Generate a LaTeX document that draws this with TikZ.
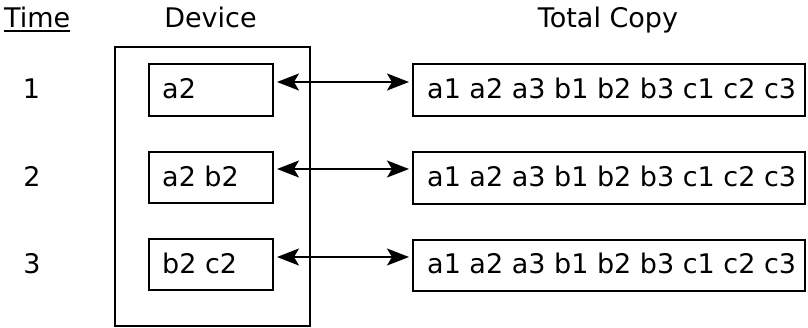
\documentclass[tikz,border=0pt]{standalone}
\usepackage{fontspec}
\setmainfont{DejaVu Sans}
\usetikzlibrary{arrows.meta}
\begin{document}
\begin{tikzpicture}[x=1pt,y=-1pt,
  every node/.style={font=\fontsize{27}{30}\selectfont},
  label/.style={inner sep=0pt, anchor=base},
  entry/.style={inner sep=0pt, anchor=base west},
  box/.style={draw, line width=2pt, inner sep=0pt, minimum height=51.5pt},
  devbox/.style={box, minimum width=124pt},
  copybox/.style={box, minimum width=392pt},
  link/.style={line width=1.6pt, {Stealth[length=22pt,width=17pt,inset=5pt]}-{Stealth[length=22pt,width=17pt,inset=5pt]}, shorten <=3pt, shorten >=3pt}]
  \useasboundingbox (0,0) rectangle (808,327);

  % column headings
  \node[label, anchor=base west] (time) at (4,27) {Time};
  \draw[line width=1.8pt] ([yshift=-4pt]time.base west) -- ([yshift=-4pt]time.base east);
  \node[label] (device) at (210.5,27) {Device};
  \node[label] (total) at (608,27) {Total Copy};

  % device enclosure
  \node[draw, line width=2pt, minimum width=195pt, minimum height=279pt, inner sep=0pt] (dev) at (212.5,186) {};

  % time steps
  \node[label] (n1) at (31.5,98) {1};
  \node[label] (n2) at (32,186) {2};
  \node[label] (n3) at (32,273) {3};

  % contents held on the device
  \node[devbox] (d1) at (211,90) {};
  \node[devbox] (d2) at (211,177.5) {};
  \node[devbox] (d3) at (211,264.5) {};
  \node[entry] (d1t) at (162,98) {a2};
  \node[entry] (d2t) at (162,186) {a2 b2};
  \node[entry] (d3t) at (162,273) {b2 c2};

  % full copies
  \node[copybox] (c1) at (609,90) {};
  \node[copybox] (c2) at (609,178) {};
  \node[copybox] (c3) at (609,265.5) {};
  \node[entry] (c1t) at (427,98) {a1 a2 a3 b1 b2 b3 c1 c2 c3};
  \node[entry] (c2t) at (427,186) {a1 a2 a3 b1 b2 b3 c1 c2 c3};
  \node[entry] (c3t) at (427,273.5) {a1 a2 a3 b1 b2 b3 c1 c2 c3};

  % synchronisation links
  \draw[link] ([yshift=8pt]d1.east) -- ([yshift=8pt]c1.west |- d1.east);
  \draw[link] ([yshift=8.5pt]d2.east) -- ([yshift=8.5pt]c2.west |- d2.east);
  \draw[link] ([yshift=7.5pt]d3.east) -- ([yshift=7.5pt]c3.west |- d3.east);
\end{tikzpicture}
\end{document}
